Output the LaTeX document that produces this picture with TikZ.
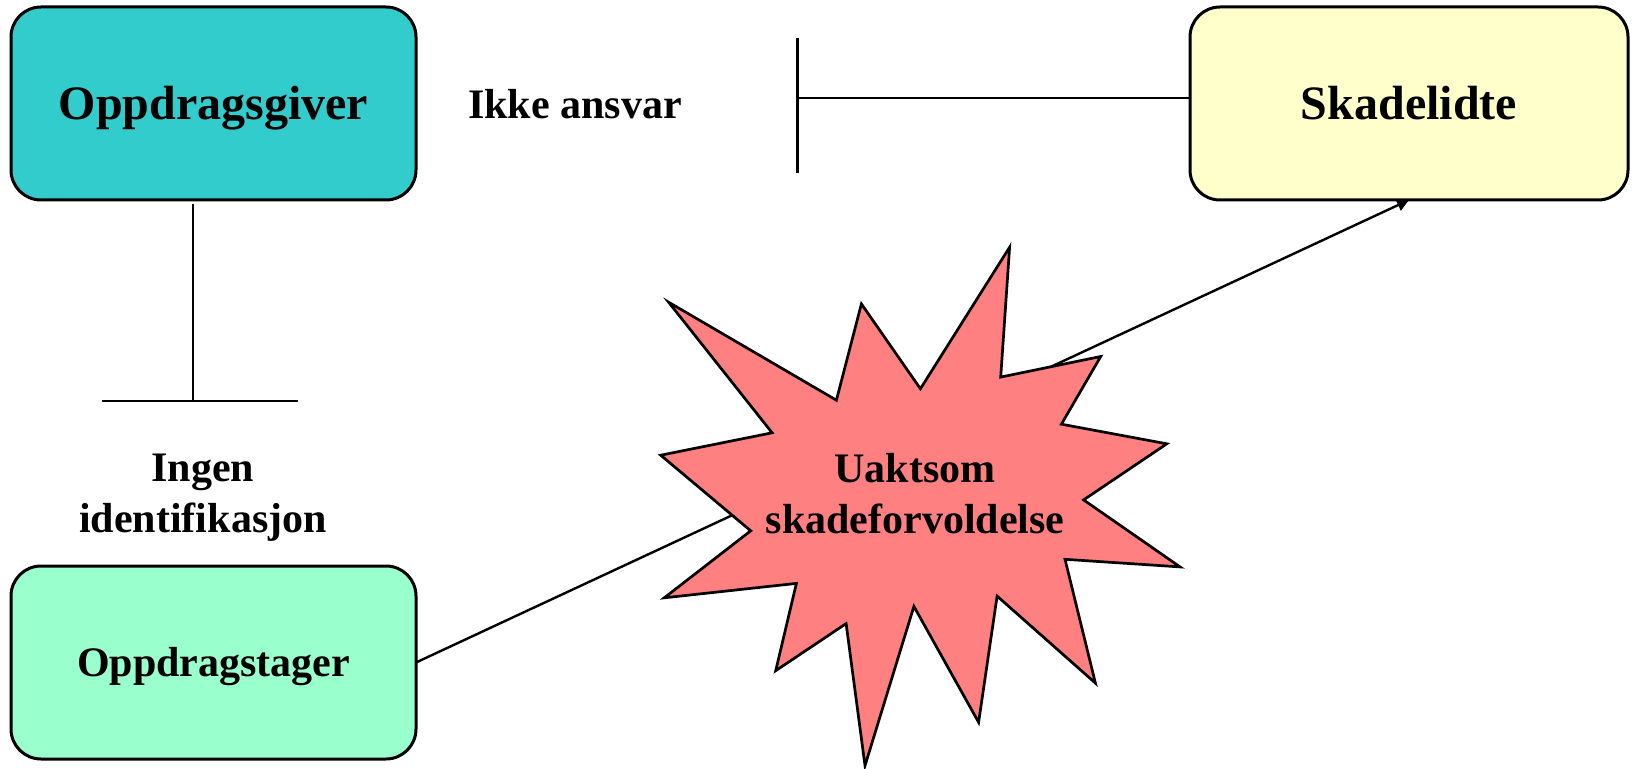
\documentclass[tikz,border=0pt]{standalone}
\usepackage{fontspec}
\setmainfont{Liberation Serif}
\usetikzlibrary{arrows.meta}
\definecolor{teal1}{HTML}{33CCCC}
\definecolor{mint1}{HTML}{99FFCC}
\definecolor{cream1}{HTML}{FFFFCC}
\definecolor{salmon1}{HTML}{FF8080}
\tikzset{
  box/.style={draw, line width=1.5pt, rounded corners=15pt, minimum height=96.5pt,
    outer sep=0pt, inner sep=0pt, text depth=0pt},
  bigtxt/.style={font=\fontsize{24}{28.8}\selectfont\bfseries, text height=15.9pt},
  midtxt/.style={font=\fontsize{21}{25.2}\selectfont\bfseries, text height=13.9pt},
  twoline/.style={font=\fontsize{21}{25.5}\selectfont\bfseries, align=center, inner sep=0pt},
  conn/.style={line width=1.3pt},
  arr/.style={line width=1.2pt, -{Triangle[length=6pt,width=6pt]}},
  starshape/.style={draw, fill=salmon1, line width=1.35pt, miter limit=20}
}
\begin{document}
\begin{tikzpicture}[x=0.5pt,y=-0.5pt]
\useasboundingbox (0,0) rectangle (1632,769);

\node[box, bigtxt, fill=teal1, minimum width=202.5pt] (og) at (213.5,103.5) {Oppdragsgiver};
\node[box, midtxt, fill=mint1, minimum width=202.5pt] (ot) at (213.5,662.5) {Oppdragstager};
\node[box, bigtxt, fill=cream1, minimum width=219pt] (sk) at (1409,103.5) {Skadelidte};

\node[midtxt, inner sep=0pt, text depth=0pt] (ia) at (575,105) {Ikke ansvar};
\node[twoline] (ii) at (203,498) {Ingen\\identifikasjon};

% T-bar: Oppdragsgiver -> Ingen identifikasjon
\coordinate (tb) at (193,401);
\coordinate (tbL) at (102,401);
\coordinate (tbR) at (298,401);
\draw[conn] ([yshift=-2pt]og.south -| tb) -- (tb);
\draw[conn] (tbL) -- (tbR);

% T-bar: Skadelidte -> Ikke ansvar
\coordinate (tt) at (797.7,98);
\coordinate (ttT) at (797.7,38);
\coordinate (ttB) at (797.7,173);
\draw[conn] (tt -| sk.west) -- (tt);
\draw[conn] (ttT) -- (ttB);

% connector Oppdragstager -> Skadelidte (behind the star)
\draw[arr] (ot.east) -- (sk.south);

% star
\draw[starshape] (668.6,302.2) -- (836.4,400.2) -- (861.4,303.9) -- (920.4,388.8)
  -- (1009.6,247.2) -- (1000.7,377.1) -- (1100.7,356.5) -- (1061.4,424.2)
  -- (1166.8,443.8) -- (1083.6,499.9) -- (1180,566.9) -- (1065,559.3)
  -- (1095.4,683.1) -- (997.1,596.1) -- (978.6,722.3) -- (913.9,606.4)
  -- (865,765.6) -- (846.1,623.6) -- (775.7,670.7) -- (796.4,583.4)
  -- (664.3,597.8) -- (750.7,530.8) -- (660.7,455.2) -- (772.1,432.8) -- cycle;
\node[twoline] (st) at (915,494) {Uaktsom\\skadeforvoldelse};
\end{tikzpicture}
\end{document}
